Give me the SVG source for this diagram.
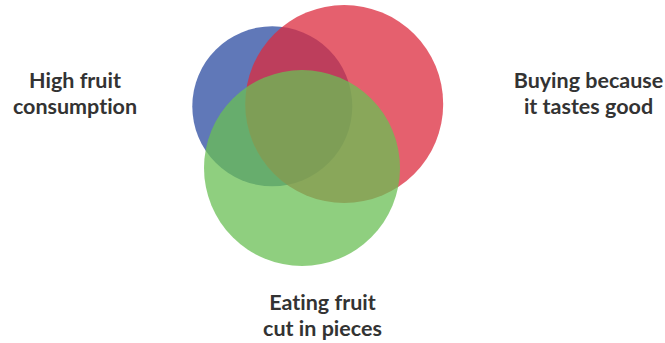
<svg xmlns="http://www.w3.org/2000/svg" width="665" height="343" viewBox="0 0 665 343">
<style>
.c{fill-opacity:0.75;stroke:none}
.t{font-family:Lato,"Liberation Sans",sans-serif;font-weight:bold;font-size:21.5px;fill:#333333;text-anchor:middle;font-variant-ligatures:none}
</style>
<rect width="665" height="343" fill="#ffffff"/>
<g id="set-high-fruit">
<circle class="c" cx="272.3" cy="106.3" r="80" fill="#2b4ba0"/>
</g>
<g id="set-tastes-good">
<circle class="c" cx="344.2" cy="104" r="99" fill="#dc2b3e"/>
</g>
<g id="set-cut-pieces">
<circle class="c" cx="302" cy="168" r="98" fill="#6abf54"/>
</g>
<g id="label-high-fruit">
<text class="t" x="75" y="88">High fruit</text>
<text class="t" x="75" y="113.5">consumption</text>
</g>
<g id="label-tastes-good">
<text class="t" x="588.5" y="88">Buying because</text>
<text class="t" x="588.5" y="113.5">it tastes good</text>
</g>
<g id="label-cut-pieces">
<text class="t" x="322.5" y="310">Eating fruit</text>
<text class="t" x="322.5" y="335.5">cut in pieces</text>
</g>
<g id="connectors"></g>
</svg>
